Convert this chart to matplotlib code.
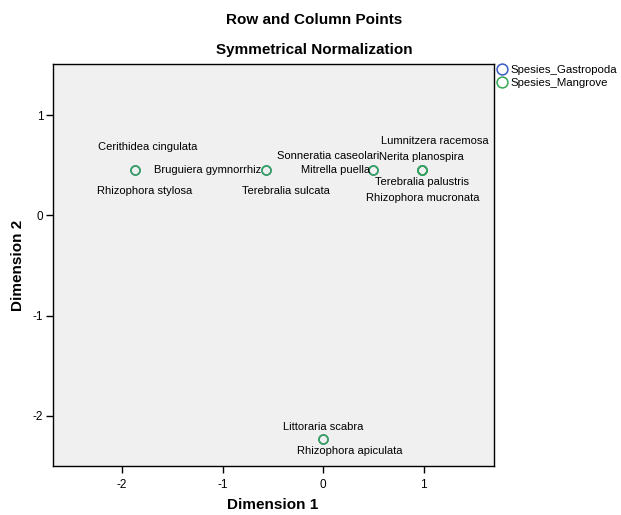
import matplotlib.pyplot as plt

plt.rcParams['font.family'] = ['Liberation Sans', 'DejaVu Sans']
plt.rcParams['axes.unicode_minus'] = False

# Row points (gastropods) and column points (mangroves)
gastro_names = ['Cerithidea cingulata', 'Terebralia sulcata', 'Mitrella puella',
                'Nerita planospira', 'Terebralia palustris', 'Littoraria scabra']
gastro_dim1 = [-1.87, -0.57, 0.50, 0.985, 0.985, 0.0]
gastro_dim2 = [0.45, 0.45, 0.45, 0.45, 0.45, -2.23]

mangrove_names = ['Rhizophora stylosa', 'Bruguiera gymnorrhiz', 'Sonneratia caseolari',
                  'Lumnitzera racemosa', 'Rhizophora mucronata', 'Rhizophora apiculata']
mangrove_dim1 = [-1.87, -0.57, 0.50, 0.985, 0.985, 0.0]
mangrove_dim2 = [0.45, 0.45, 0.45, 0.45, 0.45, -2.23]

# label offsets in pixels (dx, dy, ha)
gastro_off = [(13, 23, 'center'), (20, -21, 'center'), (-3, 0, 'right'),
              (-1, 13, 'center'), (0, -12, 'center'), (0, 12, 'center')]
mangrove_off = [(9, -21, 'center'), (-5, 0, 'right'), (-45, 14, 'center'),
                (13, 29, 'center'), (1, -28, 'center'), (27, -12, 'center')]

blue = '#3a5bc7'
green = '#35a853'

fig = plt.figure(figsize=(6.21, 5.15), dpi=100)
ax = fig.add_axes([53 / 621, 1 - 466 / 515, 441 / 621, 402 / 515])
ax.set_facecolor('#f0f0f0')

ax.plot(gastro_dim1, gastro_dim2, 'o', ms=6.5, mfc='none', mec=blue, mew=1.1,
        label='Spesies_Gastropoda')
ax.plot(mangrove_dim1, mangrove_dim2, 'o', ms=6.5, mfc='none', mec=green, mew=1.1,
        label='Spesies_Mangrove')

for names, xs, ys, offs in [(gastro_names, gastro_dim1, gastro_dim2, gastro_off),
                            (mangrove_names, mangrove_dim1, mangrove_dim2, mangrove_off)]:
    for n, x, y, (dx, dy, ha) in zip(names, xs, ys, offs):
        ax.annotate(n, (x, y), xytext=(dx, dy), textcoords='offset pixels',
                    ha=ha, va='center', fontsize=8)

ax.set_xlim(-2.687, 1.70)
ax.set_ylim(-2.50, 1.51)
ax.set_xticks([-2, -1, 0, 1])
ax.set_yticks([-2, -1, 0, 1])
ax.tick_params(direction='out', length=5, width=1, labelsize=8.5, colors='black', pad=4)
ax.tick_params(axis='y', pad=2)
for s in ax.spines.values():
    s.set_linewidth(1)

fig.text(273 / 621, 1 - 505 / 515, 'Dimension 1', ha='center', va='center',
         fontsize=11, fontweight='bold')
fig.text(18 / 621, 1 - 265 / 515, 'Dimension 2', ha='center', va='center',
         rotation=90, fontsize=11, fontweight='bold')

fig.text(314 / 621, 1 - 20 / 515, 'Row and Column Points', ha='center', va='center',
         fontsize=11, fontweight='bold')
fig.text(314 / 621, 1 - 50 / 515, 'Symmetrical Normalization', ha='center', va='center',
         fontsize=11, fontweight='bold')

fig.legend(loc='upper left', bbox_to_anchor=(497.5 / 621, 1 - 65 / 515), frameon=False,
           fontsize=8.2, handletextpad=0.3, handlelength=0.8, borderaxespad=0,
           borderpad=0, labelspacing=0.25, markerscale=1.2)

fig.savefig('out.png', dpi=100)
